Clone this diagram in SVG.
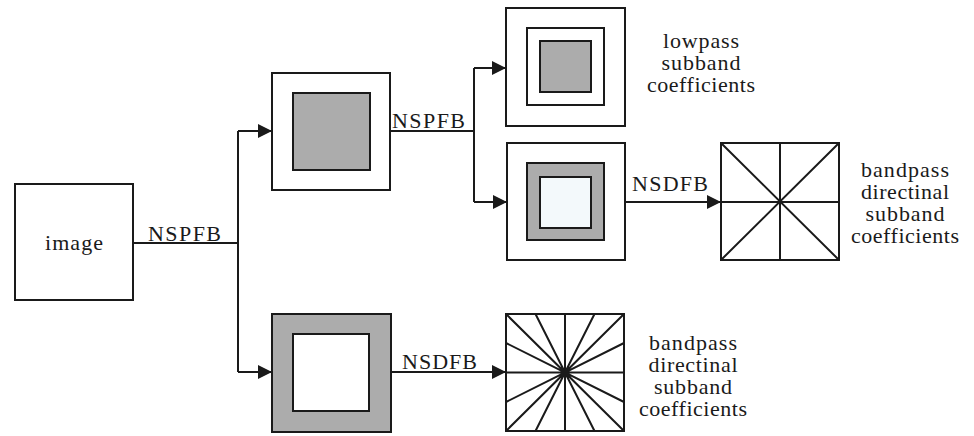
<svg xmlns="http://www.w3.org/2000/svg" width="974" height="436" viewBox="0 0 974 436">
<defs>
<style>
.b{fill:#fff;stroke:#1a1a1a;stroke-width:2}
.g{fill:#acacac;stroke:#1a1a1a;stroke-width:2}
.l{fill:#f3f9fb;stroke:#1a1a1a;stroke-width:2}
.ln{stroke:#1a1a1a;stroke-width:2;fill:none}
.c{stroke:#1a1a1a;stroke-width:2;fill:none}
text{font-family:'Liberation Serif','DejaVu Serif',serif;font-size:22px;fill:#1a1a1a}
.m{text-anchor:middle}
</style>
<marker id="ar" viewBox="0 0 14 14" refX="14" refY="7" markerWidth="14" markerHeight="14" markerUnits="userSpaceOnUse" orient="auto">
<path d="M0,0 L14,7 L0,14 z" fill="#1a1a1a"/>
</marker>
</defs>
<rect width="974" height="436" fill="#fff"/>
<g id="connectors">
<path class="c" d="M133,243 H238"/>
<path class="c" d="M238,131 V372"/>
<path class="c" d="M238,131 H272" marker-end="url(#ar)"/>
<path class="c" d="M238,372 H272" marker-end="url(#ar)"/>
<path class="c" d="M390,131 H474"/>
<path class="c" d="M474,68 V202"/>
<path class="c" d="M474,68 H506" marker-end="url(#ar)"/>
<path class="c" d="M474,202 H507" marker-end="url(#ar)"/>
<path class="c" d="M625,202 H721" marker-end="url(#ar)"/>
<path class="c" d="M391,372 H506" marker-end="url(#ar)"/>
<text font-family="Liberation Serif, DejaVu Serif, serif" font-size="22" x="148" y="241" textLength="73">NSPFB</text>
<text font-family="Liberation Serif, DejaVu Serif, serif" font-size="22" x="392" y="128" textLength="73">NSPFB</text>
<text font-family="Liberation Serif, DejaVu Serif, serif" font-size="22" x="632" y="191" textLength="76">NSDFB</text>
<text font-family="Liberation Serif, DejaVu Serif, serif" font-size="22" x="402" y="369" textLength="75">NSDFB</text>
</g>
<g id="image">
<rect class="b" x="15" y="184" width="118" height="116"/>
<text class="m" font-family="Liberation Serif, DejaVu Serif, serif" font-size="22" x="74" y="250" textLength="58">image</text>
</g>
<g id="level1">
<rect class="b" x="272" y="73" width="118" height="117"/>
<rect class="g" x="293" y="93" width="77" height="77"/>
</g>
<g id="lowpass" font-family="Liberation Serif, DejaVu Serif, serif">
<rect class="b" x="506" y="8" width="119" height="118"/>
<rect class="b" x="527" y="28" width="77" height="77"/>
<rect class="g" x="540" y="41" width="51" height="51"/>
<text class="m" font-size="19" x="701" y="48"><tspan x="701" textLength="76">lowpass</tspan><tspan x="701" dy="22" textLength="79">subband</tspan><tspan x="701" dy="22" textLength="108">coefficients</tspan></text>
</g>
<g id="dir8" font-family="Liberation Serif, DejaVu Serif, serif">
<rect class="b" x="721" y="143" width="118" height="117"/>
<path class="ln" d="M721,143 L839,260 M839,143 L721,260 M780,143 V260 M721,202 H839"/>
<text class="m" font-size="19" x="905" y="177"><tspan x="905" textLength="88">bandpass</tspan><tspan x="905" dy="22" textLength="88">directinal</tspan><tspan x="905" dy="22" textLength="79">subband</tspan><tspan x="905" dy="22" textLength="108">coefficients</tspan></text>
</g>
<g id="bandpass2">
<rect class="b" x="507" y="143" width="118" height="117"/>
<rect class="g" x="527" y="163" width="77" height="77"/>
<rect class="l" x="540" y="177" width="51" height="51"/>
</g>
<g id="bandpass1">
<rect class="g" x="272" y="314" width="119" height="118"/>
<rect class="b" x="293" y="334" width="76" height="77"/>
</g>
<g id="dir16" font-family="Liberation Serif, DejaVu Serif, serif">
<rect class="b" x="506" y="314" width="118" height="117"/>
<path class="ln" d="M506,314 L624,431 M624,314 L506,431 M565,314 V431 M506,372.5 H624 M535.5,314 L594.5,431 M594.5,314 L535.5,431 M506,343 L624,402 M624,343 L506,402"/>
<text class="m" font-size="19" x="693" y="350"><tspan x="693" textLength="88">bandpass</tspan><tspan x="693" dy="22" textLength="89">directinal</tspan><tspan x="693" dy="22" textLength="78">subband</tspan><tspan x="693" dy="22" textLength="108">coefficients</tspan></text>
</g>
</svg>
